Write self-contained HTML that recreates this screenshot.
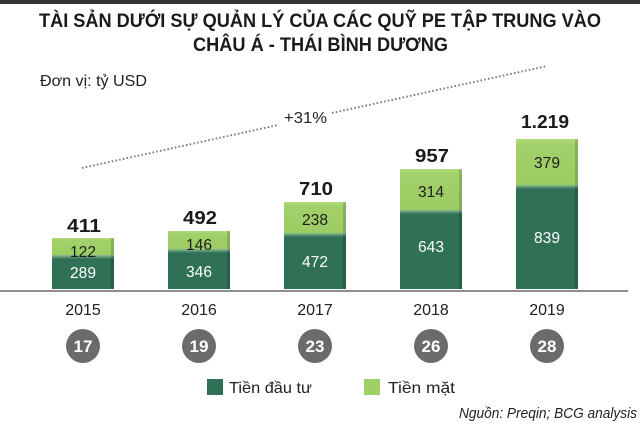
<!DOCTYPE html>
<html>
<head>
<meta charset="utf-8">
<style>
html,body{margin:0;padding:0;background:#fff;}
svg{display:block;}
text{font-family:"Liberation Sans","DejaVu Sans",sans-serif;}
</style>
</head>
<body>
<svg width="640" height="424" viewBox="0 0 640 424" xmlns="http://www.w3.org/2000/svg">
  <defs>
    <linearGradient id="seam" x1="0" y1="0" x2="0" y2="1">
      <stop offset="0" stop-color="#8fbf93"/>
      <stop offset="1" stop-color="#2f7056"/>
    </linearGradient>
    <linearGradient id="lg" x1="0" y1="0" x2="0" y2="1">
      <stop offset="0" stop-color="#b2dc7c"/>
      <stop offset="0.12" stop-color="#a2d06a"/>
      <stop offset="1" stop-color="#9ccb63"/>
    </linearGradient>
  </defs>
  <rect x="0" y="0" width="640" height="4" fill="#333"/>

  <!-- Title -->
  <text x="39" y="27" font-size="19.5" font-weight="bold" fill="#1a1a1a" textLength="562" lengthAdjust="spacingAndGlyphs">TÀI SẢN DƯỚI SỰ QUẢN LÝ CỦA CÁC QUỸ PE TẬP TRUNG VÀO</text>
  <text x="193" y="51" font-size="19.5" font-weight="bold" fill="#1a1a1a" textLength="255" lengthAdjust="spacingAndGlyphs">CHÂU Á - THÁI BÌNH DƯƠNG</text>

  <text x="40" y="86" font-size="15.5" fill="#222" textLength="107" lengthAdjust="spacingAndGlyphs">Đơn vị: tỷ USD</text>

  <!-- trend dotted line -->
  <line x1="82" y1="168" x2="278" y2="125" stroke="#7a7a7a" stroke-width="1.9" stroke-dasharray="1.6 2.2"/>
  <line x1="332" y1="113" x2="547" y2="66" stroke="#7a7a7a" stroke-width="1.9" stroke-dasharray="1.6 2.2"/>
  <text x="284" y="123" font-size="15.5" fill="#222" textLength="43" lengthAdjust="spacingAndGlyphs">+31%</text>

  <!-- Bars -->
  <rect x="52" y="238" width="62" height="19" fill="url(#lg)"/>
  <rect x="52" y="257" width="62" height="32" fill="#2f7056"/>
  <rect x="52" y="255" width="62" height="4" fill="url(#seam)"/>
  <rect x="111" y="238" width="3" height="51" fill="#000" opacity="0.15"/>

  <rect x="168" y="231" width="62" height="20" fill="url(#lg)"/>
  <rect x="168" y="251" width="62" height="38" fill="#2f7056"/>
  <rect x="168" y="249" width="62" height="4" fill="url(#seam)"/>
  <rect x="227" y="231" width="3" height="58" fill="#000" opacity="0.15"/>

  <rect x="284" y="202" width="62" height="33" fill="url(#lg)"/>
  <rect x="284" y="235" width="62" height="54" fill="#2f7056"/>
  <rect x="284" y="233" width="62" height="4" fill="url(#seam)"/>
  <rect x="343" y="202" width="3" height="87" fill="#000" opacity="0.15"/>

  <rect x="400" y="169" width="62" height="43" fill="url(#lg)"/>
  <rect x="400" y="212" width="62" height="77" fill="#2f7056"/>
  <rect x="400" y="210" width="62" height="4" fill="url(#seam)"/>
  <rect x="459" y="169" width="3" height="120" fill="#000" opacity="0.15"/>

  <rect x="516" y="139" width="62" height="48" fill="url(#lg)"/>
  <rect x="516" y="187" width="62" height="102" fill="#2f7056"/>
  <rect x="516" y="185" width="62" height="4" fill="url(#seam)"/>
  <rect x="575" y="139" width="3" height="150" fill="#000" opacity="0.15"/>

  <!-- axis -->
  <rect x="0" y="290" width="628" height="2" fill="#8f8f8f"/>

  <!-- inner labels -->
  <g font-size="16" text-anchor="middle">
    <text x="83" y="257" fill="#1e1e1e" textLength="26" lengthAdjust="spacingAndGlyphs">122</text>
    <text x="83" y="278" fill="#fff" textLength="26" lengthAdjust="spacingAndGlyphs">289</text>
    <text x="199" y="250" fill="#1e1e1e" textLength="26" lengthAdjust="spacingAndGlyphs">146</text>
    <text x="199" y="277" fill="#fff" textLength="26" lengthAdjust="spacingAndGlyphs">346</text>
    <text x="315" y="225" fill="#1e1e1e" textLength="26" lengthAdjust="spacingAndGlyphs">238</text>
    <text x="315" y="267" fill="#fff" textLength="26" lengthAdjust="spacingAndGlyphs">472</text>
    <text x="431" y="197" fill="#1e1e1e" textLength="26" lengthAdjust="spacingAndGlyphs">314</text>
    <text x="431" y="252" fill="#fff" textLength="26" lengthAdjust="spacingAndGlyphs">643</text>
    <text x="547" y="168" fill="#1e1e1e" textLength="26" lengthAdjust="spacingAndGlyphs">379</text>
    <text x="547" y="243" fill="#fff" textLength="26" lengthAdjust="spacingAndGlyphs">839</text>
  </g>

  <!-- totals -->
  <g font-size="18.5" font-weight="bold" text-anchor="middle" fill="#1a1a1a">
    <text x="84" y="232" textLength="34" lengthAdjust="spacingAndGlyphs">411</text>
    <text x="200" y="224" textLength="34" lengthAdjust="spacingAndGlyphs">492</text>
    <text x="316" y="195" textLength="34" lengthAdjust="spacingAndGlyphs">710</text>
    <text x="432" y="162" textLength="34" lengthAdjust="spacingAndGlyphs">957</text>
    <text x="545" y="128" textLength="48" lengthAdjust="spacingAndGlyphs">1.219</text>
  </g>

  <!-- years -->
  <g font-size="16" text-anchor="middle" fill="#222">
    <text x="83" y="315">2015</text>
    <text x="199" y="315">2016</text>
    <text x="315" y="315">2017</text>
    <text x="431" y="315">2018</text>
    <text x="547" y="315">2019</text>
  </g>

  <!-- circles -->
  <g fill="#6b6b6e">
    <circle cx="83" cy="346" r="17"/>
    <circle cx="199" cy="346" r="17"/>
    <circle cx="315" cy="346" r="17"/>
    <circle cx="431" cy="346" r="17"/>
    <circle cx="547" cy="346" r="17"/>
  </g>
  <g font-size="17" font-weight="bold" text-anchor="middle" fill="#fff">
    <text x="83" y="352">17</text>
    <text x="199" y="352">19</text>
    <text x="315" y="352">23</text>
    <text x="431" y="352">26</text>
    <text x="547" y="352">28</text>
  </g>

  <!-- legend -->
  <rect x="207" y="379" width="16" height="16" fill="#2f7056"/>
  <text x="229" y="393" font-size="16" fill="#222" textLength="83" lengthAdjust="spacingAndGlyphs">Tiền đầu tư</text>
  <rect x="364" y="379" width="16" height="16" fill="#a0cf67"/>
  <text x="388" y="393" font-size="16" fill="#222" textLength="67" lengthAdjust="spacingAndGlyphs">Tiền mặt</text>

  <!-- source -->
  <text x="459" y="418" font-size="15" font-style="italic" fill="#222" textLength="178" lengthAdjust="spacingAndGlyphs">Nguồn: Preqin; BCG analysis</text>
</svg>
</body>
</html>
